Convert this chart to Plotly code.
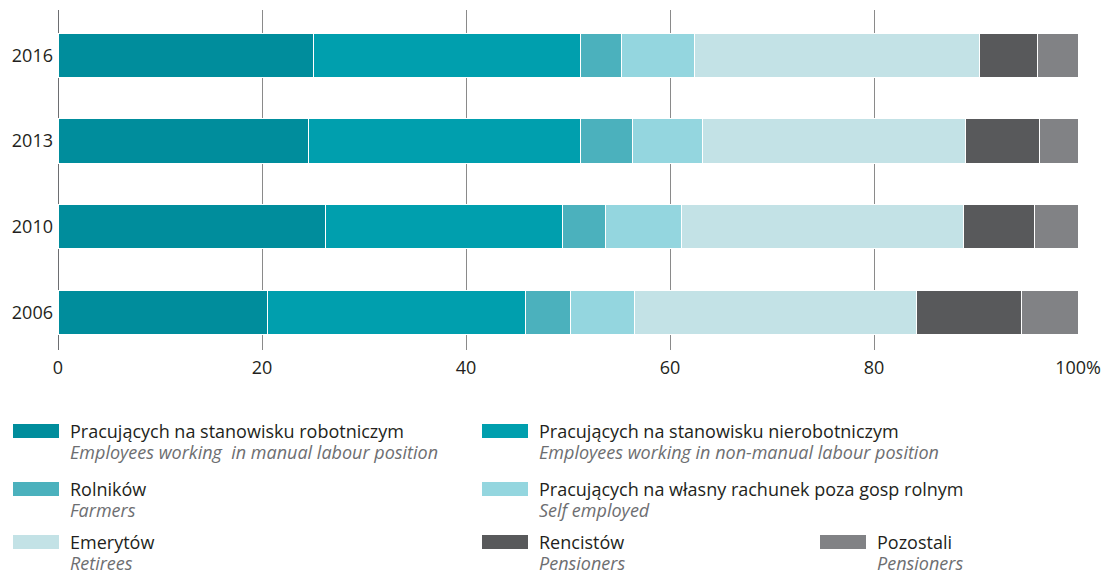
import plotly.graph_objects as go

years = ["2006", "2010", "2013", "2016"]

manual = [20.5, 26.2, 24.6, 25.0]
non_manual = [25.3, 23.3, 26.6, 26.2]
farmers = [4.4, 4.2, 5.1, 4.0]
self_employed = [6.3, 7.4, 6.9, 7.2]
retirees = [27.7, 27.7, 25.8, 27.9]
pensioners = [10.3, 6.9, 7.2, 5.7]
others = [5.5, 4.3, 3.8, 4.0]

series_pl = ["Pracujących na stanowisku robotniczym",
             "Pracujących na stanowisku nierobotniczym",
             "Rolników",
             "Pracujących na własny rachunek poza gosp rolnym",
             "Emerytów",
             "Rencistów",
             "Pozostali"]
series_en = ["Employees working  in manual labour position",
             "Employees working in non-manual labour position",
             "Farmers",
             "Self employed",
             "Retirees",
             "Pensioners",
             "Pensioners"]
colors = ["#008D9C", "#009FAE", "#4BB1BD", "#94D6DF", "#C3E2E6", "#58595B", "#818285"]
values = [manual, non_manual, farmers, self_employed, retirees, pensioners, others]

tick_vals = [0, 20, 40, 60, 80, 100]
tick_text = ["0", "20", "40", "60", "80", "100%"]

FONT = "Open Sans"

fig = go.Figure()
for name, vals, col in zip(series_pl, values, colors):
    fig.add_trace(go.Bar(
        y=years, x=vals, orientation="h", name=name,
        marker=dict(color=col, line=dict(color="white", width=1)),
        width=0.52, showlegend=False,
    ))

# The page body has an 8px margin, so the figure is sized/offset accordingly.
fig.update_layout(
    barmode="stack",
    width=1101, height=564,
    margin=dict(l=50, r=31, t=2, b=222),
    plot_bgcolor="white", paper_bgcolor="white",
    font=dict(family=FONT, color="#231F20", size=18),
    xaxis=dict(range=[0, 100], tickvals=tick_vals, ticktext=tick_text,
               showgrid=True, gridcolor="#8A8A8A", gridwidth=1,
               zeroline=True, zerolinecolor="#6D6E71", zerolinewidth=1,
               showline=False, ticks="", ticklabelstandoff=5,
               tickfont=dict(size=18, family=FONT, color="#231F20")),
    yaxis=dict(type="category", categoryorder="array", categoryarray=years,
               range=[-0.44, 3.53], showgrid=False, zeroline=False,
               showline=False, ticks="", ticklabelstandoff=4,
               tickfont=dict(size=18, family=FONT, color="#231F20")),
)

# Custom legend (3 columns); positions given in screen pixels
legend_pos = [(0, 0), (1, 0), (0, 1), (1, 1), (0, 2), (1, 2), (2, 2)]
col_x = [13, 482, 820]
row_y = [431, 489, 542]


def px(xs):
    return (xs - 58) / 1020


def py(ys):
    return (350 - ys) / 340


for i, (c, r) in enumerate(legend_pos):
    x0 = col_x[c]
    y0 = row_y[r]
    fig.add_shape(type="rect", xref="paper", yref="paper",
                  x0=px(x0), x1=px(x0 + 46),
                  y0=py(y0 + 7), y1=py(y0 - 7),
                  fillcolor=colors[i], line=dict(width=0))
    text = ("<span style='font-size:18px'>" + series_pl[i] + "</span><br>"
            "<span style='font-size:18px;color:#6D6E71'><i>" + series_en[i] + "</i></span>")
    fig.add_annotation(xref="paper", yref="paper",
                       x=px(x0 + 56), y=py(y0 - 13),
                       xanchor="left", yanchor="top", showarrow=False,
                       align="left", borderpad=0,
                       text=text,
                       font=dict(size=16, family=FONT, color="#231F20"))

fig.write_html("out.html")
